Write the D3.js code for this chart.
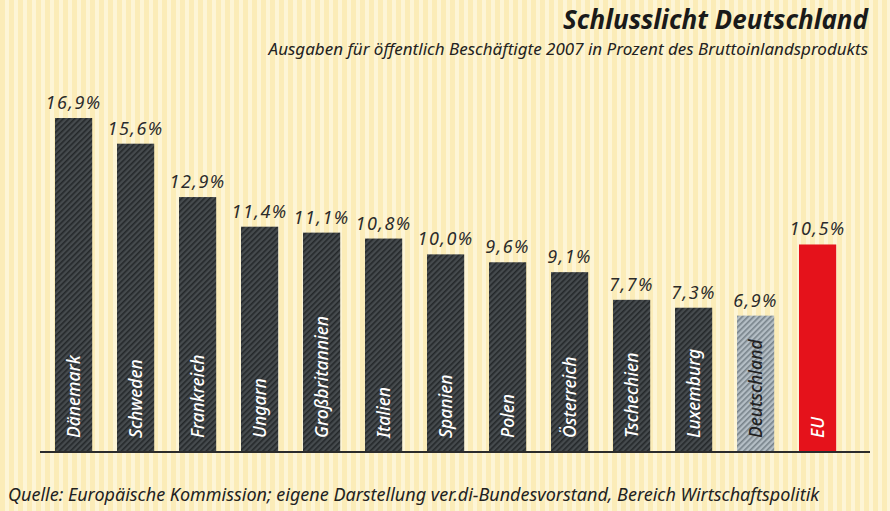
<!DOCTYPE html>
<html>
<head>
<meta charset="utf-8">
<script src="https://cdn.jsdelivr.net/npm/d3@7"></script>
<style>
  body { margin: 0; background: #fff; }
  svg text { font-family: "Noto Sans", "Open Sans", sans-serif; font-style: italic; }
</style>
</head>
<body>
<div id="vis"></div>
<script>
var countries = ["Dänemark", "Schweden", "Frankreich", "Ungarn", "Großbritannien", "Italien",
    "Spanien", "Polen", "Österreich", "Tschechien", "Luxemburg", "Deutschland", "EU"];
var values = [16.9, 15.6, 12.9, 11.4, 11.1, 10.8, 10.0, 9.6, 9.1, 7.7, 7.3, 6.9, 10.5];
var valueLabels = ["16,9%", "15,6%", "12,9%", "11,4%", "11,1%", "10,8%", "10,0%", "9,6%", "9,1%", "7,7%", "7,3%", "6,9%", "10,5%"];

var width = 890, height = 511;
var baseY = 452;

var svg = d3.select("#vis").append("svg")
    .attr("width", width)
    .attr("height", height);

var defs = svg.append("defs");

// paper background with vertical stripes
var bg = defs.append("pattern").attr("id", "paper")
    .attr("patternUnits", "userSpaceOnUse").attr("width", 9).attr("height", 10);
bg.append("rect").attr("width", 9).attr("height", 10).attr("fill", "#fdf5d6");
bg.append("rect").attr("x", 0).attr("width", 5).attr("height", 10).attr("fill", "#fbecb8");

function hatch(id, base, line) {
    var p = defs.append("pattern").attr("id", id)
        .attr("patternUnits", "userSpaceOnUse").attr("width", 4).attr("height", 4)
        .attr("patternTransform", "rotate(45)");
    p.append("rect").attr("width", 4).attr("height", 4).attr("fill", base);
    p.append("rect").attr("width", 1.6).attr("height", 4).attr("fill", line);
}
hatch("darkHatch", "#464b4e", "#24282a");
hatch("greyHatch", "#b4bec5", "#77828a");

svg.append("rect").attr("width", width).attr("height", height).attr("fill", "url(#paper)");

var x = d3.scaleBand()
    .domain(countries)
    .range([55, 55 + 62 * 12.6])
    .paddingInner(0.4)
    .paddingOuter(0);

var y = d3.scaleLinear().domain([0, 16.9]).range([baseY, 118]);

function barFill(d) {
    if (d === "EU") return "#e5121b";
    if (d === "Deutschland") return "url(#greyHatch)";
    return "url(#darkHatch)";
}

var bars = svg.selectAll(".bar").data(countries).enter().append("g").attr("class", "bar");

bars.append("rect")
    .attr("x", d => x(d))
    .attr("y", (d, i) => y(values[i]))
    .attr("width", x.bandwidth())
    .attr("height", (d, i) => baseY - y(values[i]))
    .attr("fill", barFill);

bars.append("text")
    .attr("x", d => x(d) + x.bandwidth() / 2)
    .attr("y", (d, i) => y(values[i]) - 9)
    .attr("text-anchor", "middle")
    .style("font-size", "18px")
    .style("letter-spacing", "1.5px")
    .style("fill", "#2b2b2b")
    .text((d, i) => valueLabels[i]);

bars.append("text")
    .attr("transform", d => "translate(" + (x(d) + x.bandwidth() / 2 + 6) + "," + (baseY - 14) + ")rotate(-90)")
    .attr("text-anchor", "start")
    .style("font-size", "17.5px")
    .style("font-weight", "500")
    .style("fill", d => d === "Deutschland" ? "#222" : "#fff")
    .text(d => d);

// baseline
svg.append("line")
    .attr("x1", 40).attr("x2", 870)
    .attr("y1", baseY).attr("y2", baseY)
    .attr("stroke", "#2b2b2b").attr("stroke-width", 2);

svg.append("text")
    .attr("x", 868).attr("y", 29)
    .attr("text-anchor", "end")
    .style("font-size", "26px").style("font-weight", "bold")
    .style("fill", "#1a1a1a")
    .text("Schlusslicht Deutschland");

svg.append("text")
    .attr("x", 868).attr("y", 55)
    .attr("text-anchor", "end")
    .style("font-size", "17px")
    .style("fill", "#222")
    .text("Ausgaben für öffentlich Beschäftigte 2007 in Prozent des Bruttoinlandsprodukts");

svg.append("text")
    .attr("x", 8).attr("y", 501)
    .style("font-size", "18px")
    .style("fill", "#222")
    .text("Quelle: Europäische Kommission; eigene Darstellung ver.di-Bundesvorstand, Bereich Wirtschaftspolitik");
</script>
</body>
</html>
